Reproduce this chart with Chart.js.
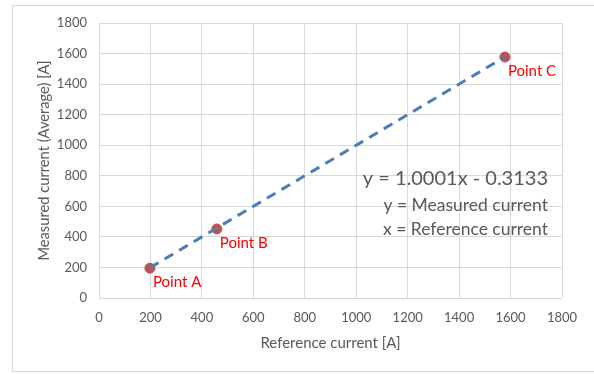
<!DOCTYPE html>
<html>
<head>
<meta charset="utf-8">
<script src="https://cdn.jsdelivr.net/npm/chart.js@4"></script>
<style>
  html, body { margin: 0; padding: 0; background: #fff; }
  #wrap { position: relative; width: 594px; height: 374px; }
  #frame { position: absolute; left: 12px; top: 5px; width: 590px; height: 367px; border: 1px solid #d9d9d9; box-sizing: border-box; }
  canvas { position: absolute; left: 0; top: 0; }
</style>
</head>
<body>
<div id="wrap">
  <div id="frame"></div>
  <canvas id="c" width="594" height="374"></canvas>
</div>
<script>
const referenceCurrent = [198, 458, 1578];
const measuredCurrent = [195, 452, 1577];
const pointNames = ['Point A', 'Point B', 'Point C'];
const trendX = [198, 1578];
const trendY = [198, 1578];
const equationLines = ['y = 1.0001x - 0.3133', 'y = Measured current', 'x = Reference current'];
const xTitle = 'Reference current [A]';
const yTitle = 'Measured current (Average) [A]';

const FONT = 'Lato, "Open Sans", sans-serif';
const GREY = '#595959';

const pointData = referenceCurrent.map((x, i) => ({ x: x, y: measuredCurrent[i] }));
const trendData = trendX.map((x, i) => ({ x: x, y: trendY[i] }));

const labelPlugin = {
  id: 'labels',
  afterDatasetsDraw(chart) {
    const ctx = chart.ctx;
    const meta = chart.getDatasetMeta(1);
    ctx.save();
    ctx.fillStyle = '#FF0000';
    ctx.font = '15px ' + FONT;
    ctx.textBaseline = 'middle';
    ctx.textAlign = 'left';
    meta.data.forEach((el, i) => {
      ctx.fillText(pointNames[i], el.x + 3, el.y + 14);
    });
    const ca = chart.chartArea;
    const rx = ca.right - 14;
    ctx.fillStyle = GREY;
    ctx.textAlign = 'right';
    ctx.font = '20px ' + FONT;
    ctx.fillText(equationLines[0], rx, ca.top + 156);
    ctx.font = '17.5px ' + FONT;
    ctx.fillText(equationLines[1], rx, ca.top + 182);
    ctx.fillText(equationLines[2], rx, ca.top + 206);
    ctx.restore();
  }
};

const tickFmt = v => String(v);

new Chart(document.getElementById('c'), {
  type: 'scatter',
  data: {
    datasets: [
      {
        data: trendData,
        showLine: true,
        borderColor: '#4A7EBB',
        borderWidth: 3,
        borderDash: [10, 7],
        pointRadius: 0,
        fill: false
      },
      {
        data: pointData,
        backgroundColor: '#C0504D',
        borderColor: '#C0504D',
        pointRadius: 5,
        showLine: false
      }
    ]
  },
  options: {
    responsive: false,
    animation: false,
    events: [],
    layout: { padding: { left: 30, right: 32, top: 23, bottom: 22 } },
    plugins: { legend: { display: false }, tooltip: { enabled: false } },
    scales: {
      x: {
        type: 'linear',
        min: 0, max: 1800,
        ticks: { stepSize: 200, color: GREY, font: { family: FONT, size: 13 }, padding: 12, maxRotation: 0, callback: tickFmt },
        grid: { color: '#d9d9d9', drawTicks: false },
        border: { display: false },
        title: { display: true, text: xTitle, color: GREY, font: { family: FONT, size: 15 }, padding: { top: 8, bottom: 0 } },
        afterFit(s) { s.height = 54; }
      },
      y: {
        type: 'linear',
        min: 0, max: 1800,
        ticks: { stepSize: 200, color: GREY, font: { family: FONT, size: 13 }, padding: 12, callback: tickFmt },
        grid: { color: '#d9d9d9', drawTicks: false },
        border: { display: false },
        title: { display: true, text: yTitle, color: GREY, font: { family: FONT, size: 14.7 }, padding: { top: 5, bottom: 0 } },
        afterFit(s) { s.width = 69; }
      }
    }
  },
  plugins: [labelPlugin]
});
</script>
</body>
</html>
